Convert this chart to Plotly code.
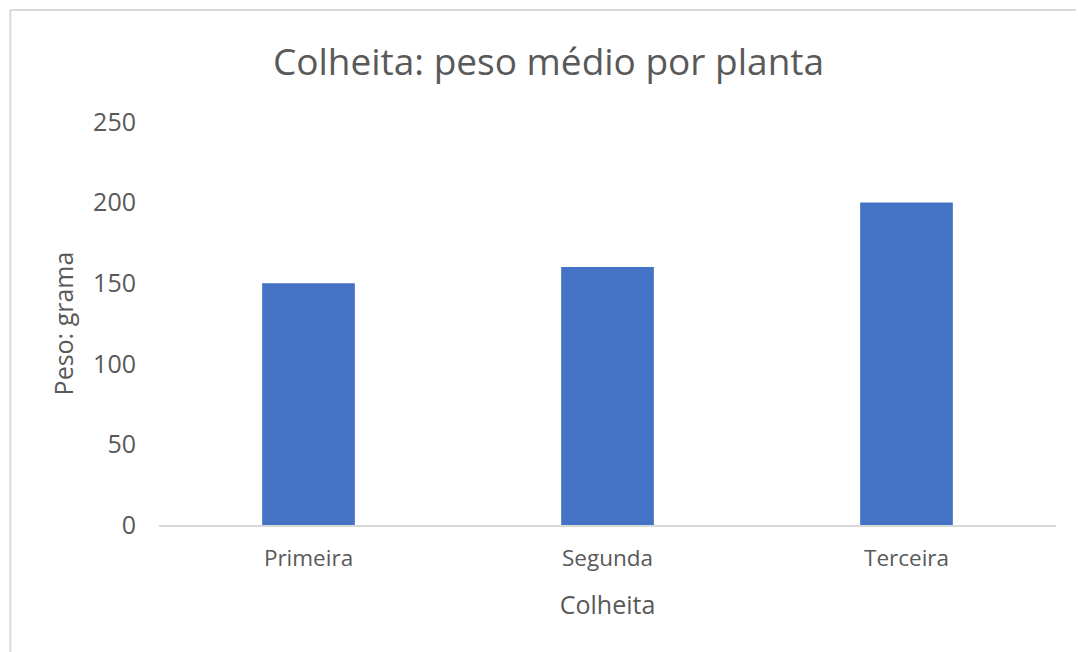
import plotly.graph_objects as go

categories = ["Primeira", "Segunda", "Terceira"]
peso = [150, 160, 200]
y_ticks = [0, 50, 100, 150, 200, 250]

fig = go.Figure()
fig.add_trace(go.Bar(x=categories, y=peso, marker=dict(color="#4472C4", line=dict(width=0)),
                     width=0.31))

font_family = "Open Sans"
fig.update_layout(
    width=1078, height=652,
    margin=dict(l=159, r=22, t=122, b=127),
    paper_bgcolor="white", plot_bgcolor="white",
    showlegend=False,
    title=dict(text="Colheita: peso médio por planta", x=548.5/1078, xanchor="center",
               y=1 - 62/652, yanchor="middle",
               font=dict(family=font_family, size=37, color="#595959")),
    font=dict(family=font_family, color="#595959"),
)
fig.update_xaxes(showgrid=False, showline=True, linecolor="#D9D9D9", linewidth=2,
                 tickfont=dict(size=22.5, color="#595959"), ticks="", ticklabelstandoff=12,
                 title=dict(text="Colheita", font=dict(size=25, color="#595959"), standoff=24),
                 fixedrange=True)
fig.update_yaxes(range=[0, 250], tickvals=y_ticks, showgrid=False, zeroline=False, showline=False,
                 tickfont=dict(size=25, color="#595959"), ticks="", ticklabelstandoff=22,
                 title=dict(text="Peso: grama", font=dict(size=25, color="#595959"), standoff=12))

# chart border (left and top edges visible)
fig.add_shape(type="line", xref="paper", yref="paper", x0=-149/899, x1=(1078-159)/899,
              y0=1 + (122-10)/403, y1=1 + (122-10)/403, line=dict(color="#D9D9D9", width=2))
fig.add_shape(type="line", xref="paper", yref="paper", x0=-149/899, x1=-149/899,
              y0=1 + (122-10)/403, y1=-(652-525)/403, line=dict(color="#D9D9D9", width=2))

fig.write_html("out.html")
